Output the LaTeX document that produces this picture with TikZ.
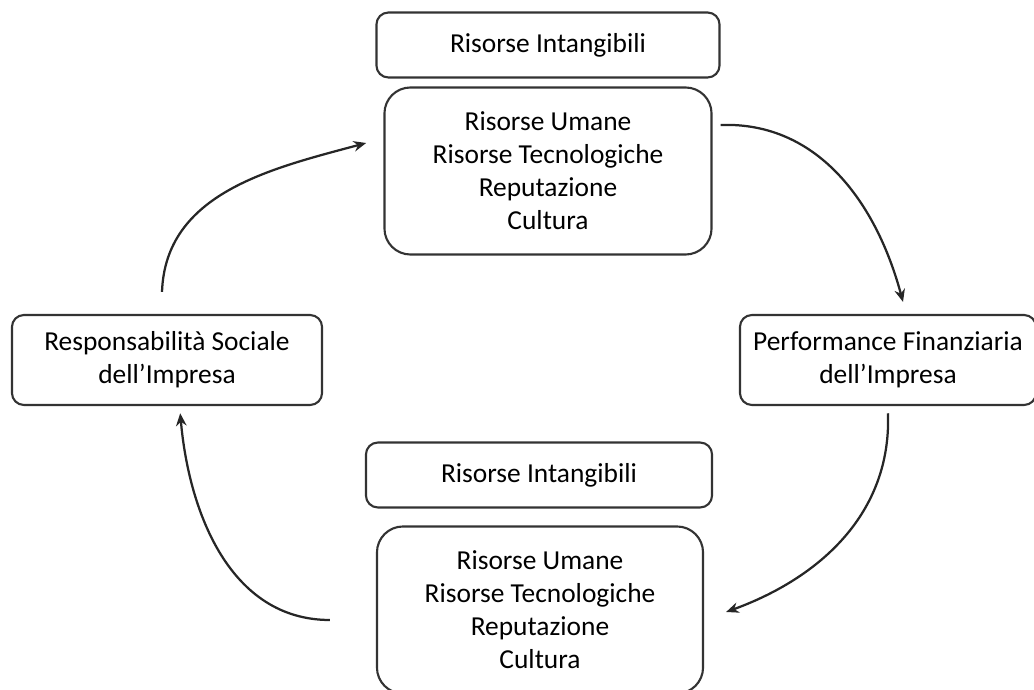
\documentclass[tikz,border=0pt]{standalone}
\usepackage{fontspec}
\setmainfont{Carlito}
\usepackage{tikz}
\usetikzlibrary{arrows.meta}
\tikzstyle{arrow} = [line width=1.6pt,->,>={Stealth[length=9pt,width=7.5pt]},draw=black!85]
\tikzstyle{box} = [draw=black!80, line width=1.5pt, rounded corners=0.3cm, align=center, inner sep=0pt, font=\fontsize{19.5}{23.5}\selectfont]
\tikzstyle{bigbox} = [box, rounded corners=0.65cm]

\begin{document}
\begin{tikzpicture}[x=0.025cm, y=0.025cm]
                \useasboundingbox (0,0) rectangle (1034,690);

                % Upper resources
                \node[box, minimum width=8.575cm, minimum height=1.625cm] (topint) at (548,645) {Risorse Intangibili};
                \node[bigbox, minimum width=8.175cm, minimum height=4.175cm] (topres) at (548,519)
                    {Risorse Umane\\Risorse Tecnologiche\\Reputazione\\Cultura};

                % Side boxes
                \node[box, minimum width=7.4cm, minimum height=2.25cm] (perf) at (888,330)
                    {Performance Finanziaria\\dell’Impresa};
                \node[box, minimum width=7.75cm, minimum height=2.25cm] (csr) at (167,330)
                    {Responsabilità Sociale\\dell’Impresa};

                % Lower resources
                \node[box, minimum width=8.65cm, minimum height=1.625cm] (botint) at (539,215) {Risorse Intangibili};
                \node[bigbox, minimum width=8.15cm, minimum height=4.175cm] (botres) at (540,80)
                    {Risorse Umane\\Risorse Tecnologiche\\Reputazione\\Cultura};

                % Cycle
                \draw [arrow] ([xshift=-0.125cm, yshift=0.55cm]csr.north) to[out=88, in=195] ([xshift=-0.43cm, yshift=0.7cm]topres.west);
                \draw [arrow] ([xshift=0.2cm, yshift=1.15cm]topres.east) to[out=2, in=105] ([xshift=0.375cm, yshift=0.3cm]perf.north);
                \draw [arrow] ([yshift=-0.18cm]perf.south) to[out=-88, in=20] ([xshift=0.55cm, yshift=-0.05cm]botres.east);
                \draw [arrow] ([xshift=-1.15cm, yshift=-0.25cm]botres.west) to[out=180, in=-85] ([xshift=0.33cm, yshift=-0.18cm]csr.south);
            \end{tikzpicture}
\end{document}
